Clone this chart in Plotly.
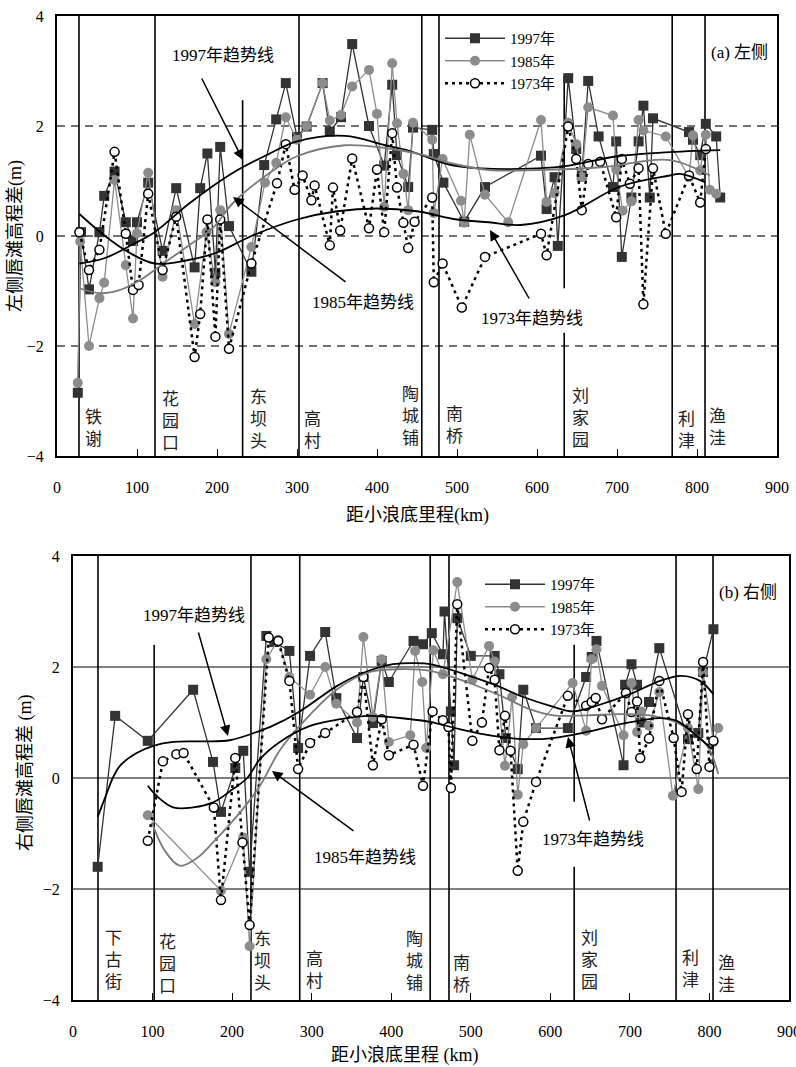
import plotly.graph_objects as go

# ---------------- DATA ----------------
# (a) left side
top_1997_km = [26, 30, 40, 53, 59, 72, 86, 95, 100, 114, 132, 149, 172, 179, 188, 198, 204, 215, 243, 259, 274, 286, 300, 312, 332, 341, 355, 369, 390, 409, 419, 425, 439, 445, 469, 471, 483, 509, 535, 605, 612, 622, 626, 639, 649, 656, 664, 677, 695, 699, 706, 718, 727, 733, 741, 745, 790, 795, 804, 811, 824, 829]
top_1997_val = [-2.85, 0.07, -0.97, 0.07, 0.73, 1.17, 0.25, -0.09, 0.25, 0.97, -0.27, 0.87, -0.57, 0.87, 1.5, -0.67, 1.62, 0.18, -0.65, 1.29, 2.12, 2.78, 1.8, 1.99, 2.78, 1.9, 2.16, 3.49, 2.0, 1.28, 2.75, 1.47, 0.89, 1.97, 1.93, 1.49, 0.97, 0.26, 0.89, 1.46, 0.49, 1.07, -0.18, 2.87, 1.58, 1.1, 2.82, 1.81, 0.89, 1.72, -0.38, 0.7, 1.72, 2.37, 0.7, 2.14, 1.89, 1.75, 1.47, 2.04, 1.81, 0.7]

top_1985_km = [26, 29, 40, 53, 59, 72, 86, 95, 100, 114, 132, 149, 172, 187, 198, 204, 215, 243, 260, 274, 286, 300, 312, 332, 341, 355, 369, 390, 400, 409, 419, 425, 433, 439, 445, 469, 471, 482, 505, 509, 516, 535, 564, 605, 612, 622, 639, 649, 656, 664, 695, 699, 707, 718, 727, 733, 761, 790, 795, 804, 811, 816, 824]
top_1985_val = [-2.67, -0.1, -2.0, -1.13, -0.85, 1.02, -0.53, -1.5, 0.05, 1.15, -0.74, 0.47, -1.6, 0.07, -0.84, 0.47, -1.78, -0.2, 0.97, 1.33, 2.16, 1.75, 2.0, 2.78, 2.1, 2.2, 2.72, 3.02, 2.22, 0.53, 3.14, 2.05, 1.13, 0.47, 2.06, 1.75, 0.42, 1.4, 0.64, 0.24, 1.84, 0.75, 0.25, 2.11, 0.62, 0.78, 2.06, 1.67, 1.07, 2.34, 2.19, 1.21, 0.46, 0.63, 2.11, 1.92, 1.81, 1.07, 1.83, 1.19, 1.84, 0.84, 0.77]

top_1973_km = [28, 40, 53, 72, 86, 95, 102, 114, 132, 149, 172, 179, 188, 198, 204, 215, 243, 275, 286, 297, 307, 318, 322, 341, 345, 354, 369, 390, 400, 409, 419, 425, 433, 439, 447, 469, 471, 482, 506, 535, 605, 612, 639, 649, 656, 664, 679, 699, 706, 716, 727, 733, 745, 761, 790, 804, 811]
top_1973_val = [0.07, -0.62, -0.25, 1.53, 0.04, -0.98, -0.89, 0.77, -0.62, 0.35, -2.2, -1.42, 0.3, -1.83, 0.3, -2.05, -0.5, 0.96, 1.67, 0.84, 1.1, 0.65, 0.92, -0.17, 0.88, 0.1, 1.41, 0.14, 1.21, 0.07, 1.87, 0.88, 0.24, -0.22, 0.26, 0.7, -0.84, -0.5, -1.3, -0.38, 0.04, -0.35, 1.99, 1.4, 0.47, 1.31, 1.35, 0.34, 1.4, 0.95, 1.23, -1.24, 1.23, 0.04, 1.1, 0.61, 1.58]

top_trend1997_km = [28, 60, 95, 122, 166, 220, 266, 300, 360, 410, 440, 490, 530, 600, 640, 700, 760, 829]
top_trend1997_val = [-0.5, -0.4, -0.15, 0.07, 0.6, 1.15, 1.5, 1.72, 1.82, 1.65, 1.55, 1.3, 1.23, 1.23, 1.28, 1.45, 1.52, 1.56]
top_trend1985_km = [28, 54, 79, 104, 133, 162, 195, 220, 266, 300, 360, 410, 450, 500, 540, 600, 680, 766, 816]
top_trend1985_val = [-0.95, -1.04, -0.98, -0.8, -0.5, -0.2, 0.15, 0.6, 1.15, 1.45, 1.65, 1.6, 1.5, 1.3, 1.2, 1.2, 1.25, 1.38, 1.1]
top_trend1973_km = [28, 60, 90, 122, 160, 200, 243, 300, 350, 400, 450, 500, 540, 579, 635, 704, 766, 779, 810]
top_trend1973_val = [0.4, 0.0, -0.3, -0.5, -0.45, -0.3, 0.0, 0.3, 0.45, 0.5, 0.45, 0.3, 0.25, 0.2, 0.38, 0.9, 1.1, 1.13, 0.98]

# (b) right side
bot_1997_km = [31, 53, 94, 151, 176, 186, 204, 214, 222, 243, 253, 272, 283, 298, 317, 331, 357, 365, 377, 388, 397, 428, 440, 451, 465, 467, 475, 479, 483, 500, 530, 536, 544, 559, 566, 582, 622, 645, 652, 658, 692, 694, 702, 709, 714, 724, 737, 773, 786, 792, 805]
bot_1997_val = [-1.6, 1.12, 0.67, 1.59, 0.29, -0.61, 0.18, 0.49, -1.69, 2.56, 2.45, 2.29, 0.54, 2.2, 2.63, 1.44, 0.72, 1.82, 0.99, 2.11, 1.73, 2.47, 2.41, 2.61, 2.23, 3.0, 1.2, 0.23, 2.88, 2.2, 2.2, 1.87, 0.72, 0.16, 1.59, 0.9, 0.9, 1.82, 2.18, 2.47, 0.23, 1.68, 2.05, 1.68, 1.0, 1.37, 2.34, 0.7, 0.81, 1.91, 2.68]

bot_1985_km = [94, 186, 214, 222, 243, 258, 272, 298, 317, 331, 357, 365, 377, 388, 397, 424, 430, 439, 444, 453, 465, 483, 502, 523, 530, 543, 552, 559, 566, 582, 628, 645, 652, 658, 665, 692, 702, 709, 714, 724, 737, 754, 773, 786, 792, 805, 811]
bot_1985_val = [-0.67, -2.03, -1.07, -3.03, 2.14, 2.49, 1.82, 1.5, 2.0, 1.34, 1.0, 2.54, 1.1, 2.14, 0.65, 0.77, 2.29, 1.73, 0.54, 2.3, 1.87, 3.53, 1.77, 2.38, 2.1, 0.22, 1.46, -0.3, 0.61, 0.9, 1.71, 0.85, 2.14, 2.32, 1.66, 0.77, 1.71, 0.83, 1.2, 0.94, 1.55, -0.32, 0.9, -0.2, 1.9, 0.65, 0.9]

bot_1973_km = [94, 113, 130, 139, 177, 186, 204, 213, 222, 246, 258, 272, 283, 298, 317, 357, 365, 377, 388, 397, 428, 440, 452, 465, 472, 475, 483, 502, 514, 523, 530, 536, 543, 550, 559, 566, 582, 622, 645, 652, 657, 665, 695, 702, 709, 713, 724, 737, 755, 765, 773, 784, 792, 800, 805]
bot_1973_val = [-1.13, 0.3, 0.43, 0.45, -0.53, -2.2, 0.36, -1.16, -2.65, 2.53, 2.47, 1.75, 0.16, 0.63, 0.81, 1.19, 1.82, 0.23, 1.06, 0.41, 0.6, -0.14, 1.2, 1.04, 0.92, -0.18, 3.13, 0.67, 1.0, 1.98, 1.77, 0.5, 1.12, 0.49, -1.67, -0.79, -0.07, 1.48, 1.3, 1.37, 1.44, 1.06, 1.53, 1.19, 1.38, 0.36, 0.71, 1.75, 0.72, -0.25, 1.15, 0.16, 2.09, 0.2, 0.67]

bot_trend1997_km = [31, 41, 50, 59, 80, 101, 126, 160, 197, 235, 248, 285, 332, 361, 402, 432, 449, 486, 528, 566, 600, 629, 662, 700, 738, 765, 788, 805]
bot_trend1997_val = [-0.7, -0.33, 0.0, 0.22, 0.45, 0.58, 0.65, 0.66, 0.68, 0.85, 0.92, 1.2, 1.66, 1.87, 2.05, 2.07, 2.05, 1.9, 1.69, 1.46, 1.3, 1.2, 1.32, 1.51, 1.75, 1.84, 1.75, 1.51]
bot_trend1985_km = [99, 115, 134, 155, 176, 210, 235, 260, 285, 332, 373, 415, 449, 495, 541, 574, 604, 646, 688, 729, 763, 797, 811]
bot_trend1985_val = [-0.8, -1.3, -1.58, -1.45, -1.16, -0.62, -0.14, 0.5, 0.94, 1.6, 1.91, 1.96, 1.93, 1.73, 1.46, 1.24, 1.13, 1.13, 1.15, 1.12, 0.97, 0.58, 0.07]
bot_trend1973_km = [94, 105, 126, 151, 176, 201, 219, 235, 260, 298, 336, 373, 424, 449, 486, 528, 570, 603, 646, 688, 738, 759, 784, 803]
bot_trend1973_val = [-0.14, -0.32, -0.53, -0.53, -0.44, -0.2, 0.0, 0.34, 0.65, 0.94, 1.06, 1.12, 1.06, 1.01, 0.88, 0.76, 0.7, 0.72, 0.83, 0.97, 1.08, 1.03, 0.76, 0.52]

# stations: name, km, extent of the marker line (value range), gap where the label text crosses
top_station_names = ["铁谢", "花园口", "东坝头", "高村", "陶城铺", "南桥", "刘家园", "利津", "渔洼"]
top_station_km = [27.5, 122.5, 232, 302.5, 456, 477.5, 634, 769, 810]
top_station_ytop = [4, 4, 2.47, 4, 4, 4, 2.9, 4, 4]
top_station_gap = [None, None, None, None, None, None, (-1.76, -0.95), None, None]
bot_station_names = ["下古街", "花园口", "东坝头", "高村", "陶城铺", "南桥", "刘家园", "利津", "渔洼"]
bot_station_km = [31.4, 102, 223.7, 285, 449, 472.6, 630, 758, 804.5]
bot_station_ytop = [4, 2.4, 4, 4, 4, 4, 2.4, 4, 4]
bot_station_gap = [None, None, None, None, None, None, (-1.6, -0.43), None, None]

x_ticks = [0, 100, 200, 300, 400, 500, 600, 700, 800, 900]
y_ticks = [-4, -2, 0, 2, 4]

# ---------------- STYLE ----------------
W, H = 796, 1067
FONT = "Liberation Serif, Times New Roman, Noto Sans CJK SC, serif"
C97 = "#333333"
C85 = "#8c8c8c"

# pixel -> data helpers for placing labels (layout positions)
def tpx(px, py):
    return (px - 57) / 0.8, (236 - py) / 55.0

def bpx(px, py):
    return (px - 73) / 0.7956, (779 - py) / 55.5

fig = go.Figure()

def add_series(xs, ys, xa, ya, year, legend, show):
    if year == 1997:
        fig.add_trace(go.Scatter(x=xs, y=ys, xaxis=xa, yaxis=ya, mode="lines+markers", name="1997年",
                                 line=dict(color=C97, width=1.3),
                                 marker=dict(symbol="square", size=10, color=C97),
                                 legend=legend, showlegend=show))
    elif year == 1985:
        fig.add_trace(go.Scatter(x=xs, y=ys, xaxis=xa, yaxis=ya, mode="lines+markers", name="1985年",
                                 line=dict(color=C85, width=1.3),
                                 marker=dict(symbol="circle", size=10, color=C85),
                                 legend=legend, showlegend=show))
    else:
        fig.add_trace(go.Scatter(x=xs, y=ys, xaxis=xa, yaxis=ya, mode="lines+markers", name="1973年",
                                 line=dict(color="black", width=2.5, dash="3px,4px"),
                                 marker=dict(symbol="circle", size=9, color="white",
                                             line=dict(color="black", width=1.5)),
                                 legend=legend, showlegend=show))

def add_trend(xs, ys, xa, ya, color):
    fig.add_trace(go.Scatter(x=xs, y=ys, xaxis=xa, yaxis=ya, mode="lines",
                             line=dict(color=color, width=1.8, shape="spline", smoothing=1.0),
                             showlegend=False, hoverinfo="skip"))

add_series(top_1997_km, top_1997_val, "x", "y", 1997, "legend", True)
add_series(top_1985_km, top_1985_val, "x", "y", 1985, "legend", True)
add_series(top_1973_km, top_1973_val, "x", "y", 1973, "legend", True)
add_trend(top_trend1997_km, top_trend1997_val, "x", "y", "black")
add_trend(top_trend1985_km, top_trend1985_val, "x", "y", "#7a7a7a")
add_trend(top_trend1973_km, top_trend1973_val, "x", "y", "black")

add_series(bot_1997_km, bot_1997_val, "x2", "y2", 1997, "legend2", True)
add_series(bot_1985_km, bot_1985_val, "x2", "y2", 1985, "legend2", True)
add_series(bot_1973_km, bot_1973_val, "x2", "y2", 1973, "legend2", True)
add_trend(bot_trend1997_km, bot_trend1997_val, "x2", "y2", "black")
add_trend(bot_trend1985_km, bot_trend1985_val, "x2", "y2", "#7a7a7a")
add_trend(bot_trend1973_km, bot_trend1973_val, "x2", "y2", "black")

shapes = []
# horizontal grid lines
for v in [-2, 0, 2]:
    shapes.append(dict(type="line", xref="x", yref="y", x0=0, x1=900, y0=v, y1=v,
                       line=dict(color="#444444", width=1.3, dash="8px,6px"), layer="below"))
    shapes.append(dict(type="line", xref="x2", yref="y2", x0=0, x1=900, y0=v, y1=v,
                       line=dict(color="black", width=1.2), layer="below"))

# station lines
def station_lines(kms, ytops, gaps, xref, yref):
    for km, yt, gap in zip(kms, ytops, gaps):
        segs = [(-4, yt)] if gap is None else [(-4, gap[0]), (gap[1], yt)]
        for y0, y1 in segs:
            shapes.append(dict(type="line", xref=xref, yref=yref, x0=km, x1=km, y0=y0, y1=y1,
                               line=dict(color="black", width=1.6), layer="below"))

station_lines(top_station_km, top_station_ytop, top_station_gap, "x", "y")
station_lines(bot_station_km, bot_station_ytop, bot_station_gap, "x2", "y2")

ann = []
# station labels
top_lab_px = [(93, 428), (170, 421), (258, 419), (312, 430), (410, 416), (454, 425), (580, 418), (686, 430), (717, 427)]
bot_lab_px = [(113, 961), (168, 965), (263, 962), (315, 971), (415, 962), (462, 975), (590, 961), (691, 970), (727, 975)]
for name, (px, py) in zip(top_station_names, top_lab_px):
    x, y = tpx(px, py)
    ann.append(dict(xref="x", yref="y", x=x, y=y, text="<br>".join(list(name)), showarrow=False,
                    font=dict(size=17, family=FONT, color="#222"), xanchor="center", yanchor="middle"))
for name, (px, py) in zip(bot_station_names, bot_lab_px):
    x, y = bpx(px, py)
    ann.append(dict(xref="x2", yref="y2", x=x, y=y, text="<br>".join(list(name)), showarrow=False,
                    font=dict(size=17, family=FONT, color="#222"), xanchor="center", yanchor="middle"))

def label(xref, yref, conv, txt, c, tail, head):
    x, y = conv(*c)
    ann.append(dict(xref=xref, yref=yref, x=x, y=y, text=txt, showarrow=False,
                    font=dict(size=17, family=FONT, color="black"), xanchor="center", yanchor="middle"))
    hx, hy = conv(*head)
    tx, ty = conv(*tail)
    ann.append(dict(xref=xref, yref=yref, x=hx, y=hy, axref=xref, ayref=yref, ax=tx, ay=ty, text="",
                    showarrow=True, arrowhead=2, arrowsize=1.4, arrowwidth=1.5, arrowcolor="black",
                    standoff=0, startstandoff=0))

label("x", "y", tpx, "1997年趋势线", (223, 55), (201, 77), (243, 160))
label("x", "y", tpx, "1985年趋势线", (363, 302), (347, 283), (233, 197))
label("x", "y", tpx, "1973年趋势线", (532, 318), (530, 300), (490, 230))
label("x2", "y2", bpx, "1997年趋势线", (194, 616), (198, 632), (228, 737))
label("x2", "y2", bpx, "1985年趋势线", (365, 858), (355, 833), (272, 772))
label("x2", "y2", bpx, "1973年趋势线", (593, 840), (590, 823), (568, 738))

x, y = tpx(739, 52)
ann.append(dict(xref="x", yref="y", x=x, y=y, text="(a) 左侧", showarrow=False,
                font=dict(size=17, family=FONT, color="black")))
x, y = bpx(748, 593)
ann.append(dict(xref="x2", yref="y2", x=x, y=y, text="(b) 右侧", showarrow=False,
                font=dict(size=17, family=FONT, color="black")))

# axis titles
def title_ann(px, py, txt, angle=0):
    ann.append(dict(xref="paper", yref="paper", x=px / W, y=1 - py / H, text=txt, textangle=angle,
                    xanchor="center", yanchor="middle", showarrow=False,
                    font=dict(size=18, family=FONT, color="black")))

title_ann(16, 236, "左侧唇滩高程差(m)", -90)
title_ann(417, 515, "距小浪底里程(km)")
title_ann(25, 773, "右侧唇滩高程差 (m)", -90)
title_ann(405, 1055, "距小浪底里程 (km)")

axis_common = dict(showline=True, linewidth=2, linecolor="black", mirror=True, showgrid=False,
                   zeroline=False, automargin=False, tickfont=dict(size=16, family=FONT, color="black"))

fig.update_layout(
    template="none",
    width=W, height=H, margin=dict(l=0, r=0, t=0, b=0, pad=0, autoexpand=False),
    paper_bgcolor="white", plot_bgcolor="white",
    font=dict(family=FONT, color="black"),
    shapes=shapes, annotations=ann,
    xaxis=dict(domain=[57 / W, 777 / W], range=[0, 900], tickvals=x_ticks, ticks="inside", ticklen=7,
               tickcolor="black", tickwidth=1.2, ticklabelstandoff=16, ticklabeloverflow="allow",
               anchor="y", **axis_common),
    yaxis=dict(domain=[1 - 456 / H, 1 - 16 / H], range=[-4, 4], tickvals=y_ticks, ticks="",
               ticklabelstandoff=8, anchor="x", **axis_common),
    xaxis2=dict(domain=[73 / W, 789 / W], range=[0, 900], tickvals=x_ticks, ticks="inside", ticklen=7,
                tickcolor="black", tickwidth=1.2, ticklabelstandoff=16, ticklabeloverflow="allow",
                anchor="y2", **axis_common),
    yaxis2=dict(domain=[1 - 1000 / H, 1 - 556 / H], range=[-4, 4], tickvals=y_ticks, ticks="",
                ticklabelstandoff=8, anchor="x2", **axis_common),
    legend=dict(x=440 / W, y=1 - 22 / H, xanchor="left", yanchor="top", bgcolor="rgba(0,0,0,0)",
                font=dict(size=15, family=FONT, color="black"), itemwidth=60, tracegroupgap=0,
                borderwidth=0),
    legend2=dict(x=480 / W, y=1 - 568 / H, xanchor="left", yanchor="top", bgcolor="rgba(0,0,0,0)",
                 font=dict(size=15, family=FONT, color="black"), itemwidth=60, tracegroupgap=0,
                 borderwidth=0),
)

fig.write_html("out.html", config={"displayModeBar": False},
               post_script="document.body.style.margin='0px';")
